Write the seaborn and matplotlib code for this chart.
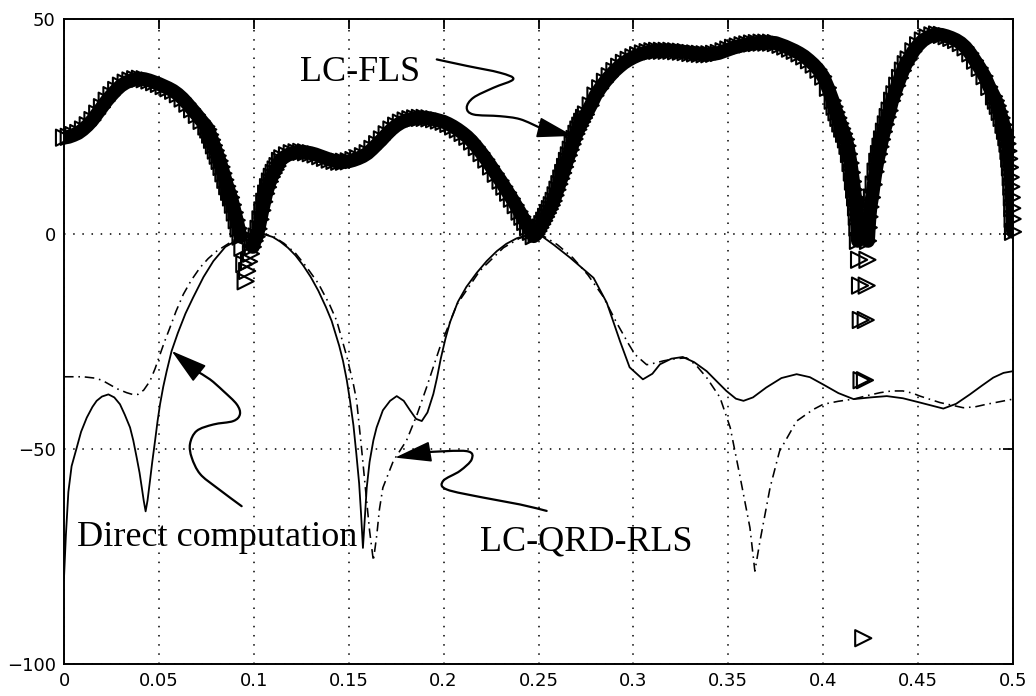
import numpy as np
import pandas as pd
import matplotlib
matplotlib.use("Agg")
import matplotlib.pyplot as plt
from matplotlib.path import Path
from matplotlib.patches import PathPatch, FancyArrowPatch
import seaborn as sns

# ---------------- data ----------------
x_ticks = [0, 0.05, 0.1, 0.15, 0.2, 0.25, 0.3, 0.35, 0.4, 0.45, 0.5]
x_ticklabels = ["0", "0.05", "0.1", "0.15", "0.2", "0.25", "0.3", "0.35", "0.4", "0.45", "0.5"]
y_ticks = [-100, -50, 0, 50]
y_ticklabels = ["\u2212100", "\u221250", "0", "50"]

# LC-FLS (triangle markers)
fls_x = [
    0.0000, 0.0025, 0.0050, 0.0075, 0.0100, 0.0125, 0.0150, 0.0175, 0.0200, 0.0225,
    0.0250, 0.0275, 0.0300, 0.0325, 0.0350, 0.0375, 0.0400, 0.0425, 0.0450, 0.0475,
    0.0500, 0.0525, 0.0550, 0.0575, 0.0600, 0.0625, 0.0650, 0.0675, 0.0700, 0.0725,
    0.0750, 0.0760, 0.0770, 0.0780, 0.0790, 0.0800, 0.0810, 0.0820, 0.0830, 0.0840,
    0.0850, 0.0860, 0.0870, 0.0880, 0.0890, 0.0900, 0.0910, 0.0920, 0.0930, 0.0940,
    0.0950, 0.0957, 0.0965, 0.0975, 0.0985, 0.0995, 0.1005, 0.1015, 0.1025, 0.1035,
    0.1045, 0.1055, 0.1065, 0.1075, 0.1085, 0.1095, 0.1105, 0.1115, 0.1125, 0.1138,
    0.1150, 0.1175, 0.1200, 0.1225, 0.1250, 0.1275, 0.1300, 0.1325, 0.1350, 0.1375,
    0.1400, 0.1425, 0.1450, 0.1475, 0.1500, 0.1525, 0.1550, 0.1575, 0.1600, 0.1625,
    0.1650, 0.1675, 0.1700, 0.1725, 0.1750, 0.1775, 0.1800, 0.1825, 0.1850, 0.1875,
    0.1900, 0.1925, 0.1950, 0.1975, 0.2000, 0.2025, 0.2050, 0.2075, 0.2100, 0.2125,
    0.2150, 0.2175, 0.2200, 0.2225, 0.2250, 0.2275, 0.2300, 0.2320, 0.2340, 0.2360,
    0.2380, 0.2400, 0.2415, 0.2430, 0.2445, 0.2460, 0.2475, 0.2490, 0.2500, 0.2510,
    0.2520, 0.2530, 0.2540, 0.2550, 0.2560, 0.2570, 0.2580, 0.2590, 0.2600, 0.2610,
    0.2620, 0.2630, 0.2640, 0.2650, 0.2660, 0.2670, 0.2680, 0.2690, 0.2700, 0.2710,
    0.2720, 0.2730, 0.2740, 0.2750, 0.2775, 0.2800, 0.2825, 0.2850, 0.2875, 0.2900,
    0.2925, 0.2950, 0.2975, 0.3000, 0.3025, 0.3050, 0.3075, 0.3100, 0.3125, 0.3150,
    0.3175, 0.3200, 0.3225, 0.3250, 0.3275, 0.3300, 0.3325, 0.3350, 0.3375, 0.3400,
    0.3425, 0.3450, 0.3475, 0.3500, 0.3525, 0.3550, 0.3575, 0.3600, 0.3625, 0.3650,
    0.3675, 0.3700, 0.3725, 0.3750, 0.3775, 0.3800, 0.3825, 0.3850, 0.3875, 0.3900,
    0.3925, 0.3950, 0.3975, 0.4000, 0.4025, 0.4050, 0.4060, 0.4070, 0.4080, 0.4090,
    0.4100, 0.4110, 0.4120, 0.4128, 0.4136, 0.4144, 0.4151, 0.4157, 0.4163, 0.4168,
    0.4173, 0.4177, 0.4180, 0.4183, 0.4189, 0.4194, 0.4198, 0.4202, 0.4211, 0.4220,
    0.4224, 0.4229, 0.4233, 0.4236, 0.4240, 0.4244, 0.4249, 0.4257, 0.4266, 0.4276,
    0.4285, 0.4294, 0.4302, 0.4310, 0.4320, 0.4330, 0.4340, 0.4350, 0.4363, 0.4375,
    0.4390, 0.4405, 0.4420, 0.4435, 0.4450, 0.4475, 0.4500, 0.4525, 0.4550, 0.4575,
    0.4600, 0.4625, 0.4650, 0.4675, 0.4700, 0.4725, 0.4750, 0.4775, 0.4800, 0.4825,
    0.4850, 0.4875, 0.4900, 0.4910, 0.4920, 0.4930, 0.4940, 0.4950, 0.4958, 0.4965,
    0.4971, 0.4976, 0.4980, 0.4984, 0.4988, 0.4991, 0.4994, 0.4996, 0.4998, 0.5000,
]
fls_y = [
    22.4, 22.6, 23.0, 23.5, 24.3, 25.3, 26.5, 28.0, 29.5, 31.0,
    32.3, 33.5, 34.5, 35.2, 35.7, 36.0, 36.1, 36.0, 35.7, 35.3,
    34.9, 34.4, 33.9, 33.3, 32.5, 31.5, 30.3, 29.0, 27.7, 26.3,
    25.0, 24.3, 23.1, 21.9, 20.6, 19.4, 18.2, 17.0, 15.6, 14.1,
    12.6, 11.1, 9.8, 8.5, 6.8, 5.0, 3.2, 1.3, -0.6, -3.2,
    -7.0, -11.0, -8.6, -6.4, -4.6, -3.0, -1.6, -0.6, 1.2, 3.4,
    5.5, 7.5, 9.4, 10.9, 12.2, 13.3, 14.2, 15.0, 15.8, 17.0,
    17.6, 18.3, 18.8, 19.0, 19.1, 19.0, 18.8, 18.5, 18.1, 17.7,
    17.3, 17.0, 16.8, 16.8, 16.9, 17.2, 17.6, 18.1, 18.8, 19.8,
    20.9, 22.0, 23.2, 24.3, 25.2, 25.9, 26.4, 26.7, 26.9, 27.0,
    27.0, 26.9, 26.7, 26.4, 26.1, 25.6, 25.0, 24.3, 23.5, 22.6,
    21.5, 20.2, 18.8, 17.3, 15.7, 14.0, 12.4, 11.0, 9.6, 8.2,
    6.7, 5.2, 4.0, 2.8, 1.6, 0.5, -0.5, 0.0, 0.7, 1.5,
    2.3, 3.1, 4.0, 4.9, 5.8, 6.7, 7.7, 9.0, 10.3, 11.6,
    12.9, 14.2, 15.6, 17.0, 18.3, 19.6, 20.9, 22.1, 23.3, 24.3,
    25.2, 26.1, 27.0, 27.8, 29.9, 32.2, 33.9, 35.4, 36.7, 37.9,
    38.9, 39.8, 40.5, 41.1, 41.6, 42.0, 42.3, 42.5, 42.6, 42.6,
    42.6, 42.6, 42.5, 42.4, 42.3, 42.1, 42.0, 41.9, 41.8, 41.8,
    41.9, 42.1, 42.5, 42.9, 43.3, 43.6, 43.9, 44.1, 44.3, 44.4,
    44.5, 44.5, 44.5, 44.4, 44.0, 43.6, 43.1, 42.6, 42.0, 41.3,
    40.4, 39.4, 38.2, 36.6, 34.0, 31.0, 29.6, 28.3, 27.0, 25.7,
    24.5, 23.3, 22.0, 20.5, 18.6, 16.5, 14.3, 12.2, 10.3, 8.5,
    6.2, 4.0, 1.5, -1.6, -6.0, -12.0, -20.0, -34.0, -94.0, -34.0,
    -20.0, -12.0, -6.0, -1.6, 1.5, 4.0, 6.3, 8.5, 11.5, 14.5,
    16.8, 18.6, 20.3, 22.0, 23.8, 25.5, 27.2, 28.7, 31.0, 32.5,
    34.5, 36.3, 38.0, 39.5, 40.6, 42.5, 43.9, 45.0, 45.7, 46.2,
    46.4, 46.3, 46.0, 45.6, 45.1, 44.4, 43.4, 42.0, 40.3, 38.6,
    36.7, 34.2, 32.0, 31.0, 29.8, 28.4, 27.0, 25.4, 24.0, 22.5,
    21.0, 19.3, 17.5, 15.5, 13.2, 11.0, 8.5, 6.0, 3.5, 0.5,
]

# Direct computation (solid line)
direct_x = [
    0.0000, 0.0010, 0.0023, 0.0040, 0.0067, 0.0090, 0.0120, 0.0150, 0.0172, 0.0200,
    0.0234, 0.0265, 0.0295, 0.0320, 0.0348, 0.0365, 0.0383, 0.0398, 0.0410, 0.0420,
    0.0430, 0.0440, 0.0453, 0.0465, 0.0480, 0.0493, 0.0506, 0.0523, 0.0541, 0.0567,
    0.0600, 0.0640, 0.0680, 0.0735, 0.0787, 0.0850, 0.0920, 0.0980, 0.1050, 0.1100,
    0.1140, 0.1180, 0.1220, 0.1260, 0.1300, 0.1340, 0.1380, 0.1410, 0.1450, 0.1470,
    0.1490, 0.1507, 0.1525, 0.1540, 0.1555, 0.1565, 0.1575, 0.1585, 0.1595, 0.1610,
    0.1630, 0.1647, 0.1680, 0.1718, 0.1753, 0.1790, 0.1823, 0.1855, 0.1885, 0.1915,
    0.1946, 0.1965, 0.1985, 0.2010, 0.2034, 0.2075, 0.2120, 0.2175, 0.2227, 0.2280,
    0.2330, 0.2385, 0.2438, 0.2480, 0.2508, 0.2580, 0.2666, 0.2790, 0.2860, 0.2930,
    0.2980, 0.3050, 0.3100, 0.3140, 0.3200, 0.3260, 0.3320, 0.3386, 0.3440, 0.3490,
    0.3540, 0.3580, 0.3630, 0.3700, 0.3780, 0.3860, 0.3930, 0.4000, 0.4080, 0.4160,
    0.4250, 0.4335, 0.4420, 0.4510, 0.4633, 0.4700, 0.4773, 0.4835, 0.4896, 0.4950,
    0.5000,
]
direct_y = [
    -80.0, -70.0, -60.0, -54.0, -49.7, -46.0, -42.7, -40.2, -38.8, -37.8,
    -37.3, -38.0, -39.6, -42.0, -45.0, -48.0, -52.0, -55.5, -59.0, -62.0,
    -64.5, -62.0, -57.4, -53.0, -48.0, -43.5, -39.6, -35.5, -31.9, -27.2,
    -23.0, -18.5, -14.8, -10.0, -6.3, -3.0, -1.2, -0.3, 0.0, -0.7,
    -1.8, -3.2, -5.0, -7.3, -10.0, -13.2, -17.0, -20.2, -26.0, -29.5,
    -34.0, -38.8, -44.5, -51.0, -58.0, -65.0, -73.0, -66.0, -59.0, -53.0,
    -48.0, -45.0, -41.0, -38.8, -37.7, -38.8, -41.0, -43.0, -43.5, -41.5,
    -37.2, -33.5, -29.0, -24.3, -20.5, -15.8, -12.3, -9.0, -6.3, -4.0,
    -2.3, -1.0, -0.3, 0.0, -0.2, -2.5, -5.5, -10.2, -16.0, -25.0,
    -31.0, -33.8, -32.5, -30.3, -29.0, -28.6, -29.8, -31.9, -34.3, -36.5,
    -38.3, -38.8, -38.0, -35.7, -33.5, -32.6, -33.3, -35.0, -37.0, -38.4,
    -38.0, -37.7, -38.2, -39.2, -40.6, -39.5, -37.3, -35.3, -33.4, -32.3,
    -31.9,
]

# LC-QRD-RLS (dash-dot line)
qrd_x = [
    0.0000, 0.0100, 0.0160, 0.0200, 0.0240, 0.0280, 0.0330, 0.0360, 0.0390, 0.0420,
    0.0453, 0.0480, 0.0506, 0.0530, 0.0558, 0.0590, 0.0629, 0.0670, 0.0717, 0.0760,
    0.0804, 0.0875, 0.0940, 0.1000, 0.1050, 0.1100, 0.1160, 0.1220, 0.1280, 0.1340,
    0.1400, 0.1437, 0.1490, 0.1525, 0.1542, 0.1568, 0.1590, 0.1610, 0.1630, 0.1648,
    0.1662, 0.1680, 0.1735, 0.1805, 0.1860, 0.1910, 0.1980, 0.2070, 0.2190, 0.2315,
    0.2400, 0.2470, 0.2520, 0.2600, 0.2680, 0.2760, 0.2840, 0.2910, 0.2975, 0.3008,
    0.3070, 0.3115, 0.3158, 0.3220, 0.3280, 0.3330, 0.3386, 0.3456, 0.3510, 0.3560,
    0.3614, 0.3640, 0.3667, 0.3720, 0.3770, 0.3860, 0.3948, 0.4000, 0.4080, 0.4160,
    0.4230, 0.4300, 0.4360, 0.4420, 0.4470, 0.4510, 0.4615, 0.4738, 0.4800, 0.4860,
    0.4930, 0.5000,
]
qrd_y = [
    -33.2, -33.2, -33.5, -34.0, -35.0, -36.0, -36.9, -37.3, -37.3, -36.3,
    -34.2, -31.3, -28.0, -25.0, -21.8, -18.0, -14.0, -10.8, -7.8, -5.7,
    -4.0, -2.0, -0.7, -0.1, 0.0, -0.5, -2.2, -4.5, -7.8, -11.5,
    -16.5, -20.2, -28.5, -35.0, -38.8, -50.0, -60.0, -69.0, -76.0, -70.0,
    -64.0, -59.0, -52.8, -48.0, -42.0, -35.7, -26.4, -16.4, -8.6, -3.2,
    -1.0, 0.0, -0.3, -2.5, -5.5, -9.5, -14.5, -20.5, -25.6, -28.0,
    -30.4, -30.0, -29.5, -29.0, -28.8, -30.5, -33.4, -38.0, -45.0, -56.0,
    -68.3, -78.4, -71.4, -59.0, -50.5, -43.5, -40.8, -39.6, -38.9, -38.4,
    -37.6, -36.9, -36.5, -36.5, -37.0, -37.7, -39.2, -40.4, -40.2, -39.6,
    -39.0, -38.4,
]

# annotation labels
label_fls = "LC-FLS"
label_direct = "Direct computation"
label_qrd = "LC-QRD-RLS"

INK = "#000000"

# ---------------- styling ----------------
sns.set_theme(style="white")
plt.rcParams["font.family"] = ["DejaVu Sans"]
plt.rcParams["axes.unicode_minus"] = True
plt.rcParams["text.color"] = INK
plt.rcParams["xtick.color"] = INK
plt.rcParams["ytick.color"] = INK

fig = plt.figure(figsize=(10.36, 6.96), dpi=100)
ax = fig.add_axes([64 / 1036, 32 / 696, 949 / 1036, 645 / 696])

sns.lineplot(x=direct_x, y=direct_y, ax=ax, color=INK, lw=1.3,
             estimator=None, sort=False, zorder=2)
sns.lineplot(x=qrd_x, y=qrd_y, ax=ax, color=INK, lw=1.15,
             linestyle=(0, (6, 3, 1, 3)), estimator=None, sort=False, zorder=2)

# dense band of LC-FLS: a thick trace under the markers wherever the
# markers overlap into a continuous band (break at the isolated notch markers)
fls = pd.DataFrame({"x": fls_x, "y": fls_y})
isolated = fls["y"] < -3
fls["seg"] = isolated.cumsum()
band = fls[~isolated]
sns.lineplot(data=band, x="x", y="y", units="seg", estimator=None, sort=False,
             ax=ax, color=INK, lw=10, solid_capstyle="round", zorder=3,
             legend=False)
sns.scatterplot(data=fls, x="x", y="y", ax=ax, marker=">", s=135, color=INK,
                facecolor="none", edgecolor=INK, linewidth=1.5,
                clip_on=False, zorder=3, legend=False)

ax.set_xlim(0, 0.5)
ax.set_ylim(-100, 50)
ax.set_xticks(x_ticks)
ax.set_xticklabels(x_ticklabels)
ax.set_yticks(y_ticks)
ax.set_yticklabels(y_ticklabels)
ax.set_xlabel("")
ax.set_ylabel("")
ax.grid(True, color=INK, linestyle=(0, (1, 5)), linewidth=1.1)
ax.set_axisbelow(True)
ax.tick_params(direction="in", length=7, width=1.3, top=True, right=True,
               labelsize=13, pad=6, colors=INK, labelcolor=INK)
for sp in ax.spines.values():
    sp.set_visible(True)
    sp.set_color(INK)
    sp.set_linewidth(1.4)

# ---------------- annotations ----------------
serif = ["Liberation Serif", "DejaVu Serif"]
ax.text(0.1243, 35.6, label_fls, family=serif, fontsize=26, color=INK,
        ha="left", va="baseline")
ax.text(0.0068, -72.6, label_direct, family=serif, fontsize=26, color=INK,
        ha="left", va="baseline")
ax.text(0.2192, -73.7, label_qrd, family=serif, fontsize=26, color=INK,
        ha="left", va="baseline")


def squiggle(points):
    """Smooth Catmull-Rom curve through annotation control points."""
    P = np.asarray(points, dtype=float)
    ext = np.vstack([P[0], P, P[-1]])
    verts = [tuple(P[0])]
    codes = [Path.MOVETO]
    for i in range(1, len(ext) - 2):
        p0, p1, p2, p3 = ext[i - 1], ext[i], ext[i + 1], ext[i + 2]
        c1 = p1 + (p2 - p0) / 6.0
        c2 = p2 - (p3 - p1) / 6.0
        verts += [tuple(c1), tuple(c2), tuple(p2)]
        codes += [Path.CURVE4] * 3
    return Path(verts, codes)


arrows = [
    # LC-FLS
    ([(0.1964, 40.6), (0.2122, 39.1), (0.2297, 37.5), (0.2367, 36.0), (0.2262, 34.0),
      (0.2157, 31.7), (0.2122, 29.4), (0.2157, 27.8), (0.2297, 27.4), (0.2403, 26.7),
      (0.2508, 24.7)], (0.2683, 22.8)),
    # Direct computation
    ([(0.0936, -63.3), (0.0805, -59.0), (0.0717, -55.8), (0.0673, -52.0), (0.0664, -48.8),
      (0.0699, -45.8), (0.0787, -44.3), (0.0892, -43.5), (0.0927, -41.9), (0.0910, -39.6),
      (0.0839, -36.5), (0.0769, -33.8), (0.0699, -31.9)], (0.0567, -27.2)),
    # LC-QRD-RLS
    ([(0.2543, -64.4), (0.2403, -62.9), (0.2209, -61.3), (0.2016, -59.4), (0.1998, -57.4),
      (0.2086, -55.1), (0.2148, -52.4), (0.2122, -50.5), (0.1919, -50.7)], (0.1744, -52.0)),
]
for pts, tip in arrows:
    ax.add_patch(PathPatch(squiggle(pts), fill=False, lw=1.6, edgecolor=INK,
                           transform=ax.transData, zorder=4, capstyle="round"))
    ax.add_patch(FancyArrowPatch(posA=pts[-1], posB=tip, transform=ax.transData,
                                 arrowstyle="-|>,head_length=2.3,head_width=0.65",
                                 mutation_scale=10, shrinkA=0, shrinkB=0,
                                 lw=1.2, color=INK, zorder=4))

fig.savefig("out.png", dpi=100)
